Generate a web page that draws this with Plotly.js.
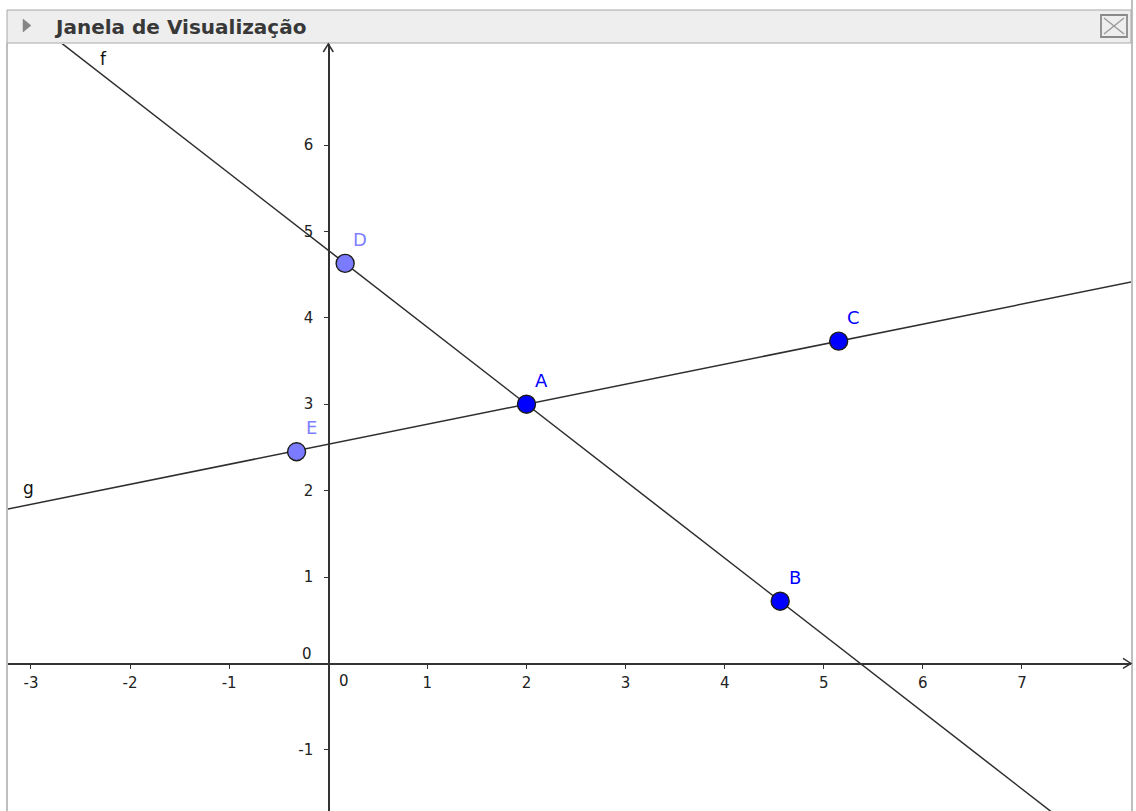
<!DOCTYPE html>
<html>
<head>
<meta charset="utf-8">
<script src="https://cdn.plot.ly/plotly-3.0.1.min.js"></script>
<style>
  html, body { margin: 0; padding: 0; background: #ffffff; }
  #chart { width: 1136px; height: 811px; }
</style>
</head>
<body>
<div id="chart"></div>
<script>
// ---- data ----
const pointNames = ['A', 'B', 'C', 'D', 'E'];
const pointX = [2, 4.56, 5.15, 0.17, -0.32];
const pointY = [3, 0.72, 3.73, 4.63, 2.45];
const lineNames = ['f', 'g'];
const lineThrough = [['A', 'B'], ['A', 'C']];
const xTickVals = [-3, -2, -1, 1, 2, 3, 4, 5, 6, 7];
const yTickVals = [-1, 1, 2, 3, 4, 5, 6];
const panelTitle = 'Janela de Visualização';

// ---- view ----
const W = 1136, H = 811;
const xRange = [-3.232, 8.100];
const yRange = [-1.708, 7.169];
const xDom = [8 / W, 1131 / W];
const yDom = [0, (H - 44) / H];
const FONT = 'DejaVu Sans, Liberation Sans, Arial, sans-serif';
const px = x => x / W;
const py = y => 1 - y / H;

// helpers
const idx = n => pointNames.indexOf(n);
function lineThroughPts(n1, n2) {
  const x1 = pointX[idx(n1)], y1 = pointY[idx(n1)];
  const x2 = pointX[idx(n2)], y2 = pointY[idx(n2)];
  const m = (y2 - y1) / (x2 - x1);
  const xs = [xRange[0] - 1, xRange[1] + 1];
  return { m, x1, y1, xs, ys: xs.map(x => y1 + m * (x - x1)) };
}

const traces = [];
const lineInfo = lineThrough.map(p => lineThroughPts(p[0], p[1]));
lineInfo.forEach((L, i) => {
  traces.push({
    type: 'scatter', mode: 'lines', x: L.xs, y: L.ys, name: lineNames[i],
    line: { color: '#2e2e2e', width: 1.5 }, hoverinfo: 'skip', showlegend: false
  });
});

const lightIdx = [3, 4]; // D, E drawn lighter
const fillCols = pointNames.map((n, i) => lightIdx.includes(i) ? '#7b7bff' : '#0000ff');
const textCols = pointNames.map((n, i) => lightIdx.includes(i) ? '#8080ff' : '#0000ff');
traces.push({
  type: 'scatter', mode: 'markers', x: pointX, y: pointY, text: pointNames,
  marker: { size: 18, color: fillCols, line: { color: '#1c1c1c', width: 1.4 } },
  hoverinfo: 'skip', showlegend: false
});

const annotations = [];
pointNames.forEach((n, i) => {
  annotations.push({
    x: pointX[i], y: pointY[i], xref: 'x', yref: 'y', text: n, showarrow: false,
    xshift: 15, yshift: 24, font: { family: FONT, size: 18, color: textCols[i] }
  });
});
// line labels (f near top-left, g near left edge), placed above their lines
const lineLabelX = [-2.29, -3.05];
const lineLabelShift = [15, 17];
lineInfo.forEach((L, i) => {
  const lx = lineLabelX[i];
  annotations.push({
    x: lx, y: L.y1 + L.m * (lx - L.x1), xref: 'x', yref: 'y', text: lineNames[i],
    showarrow: false, yshift: lineLabelShift[i], xshift: 2,
    font: { family: FONT, size: 17, color: '#111111' }
  });
});
// origin labels
annotations.push({ x: 0, y: 0, xref: 'x', yref: 'y', text: '0', showarrow: false,
  xshift: 16, yshift: -18, font: { family: FONT, size: 15, color: '#222' } });
annotations.push({ x: 0, y: 0, xref: 'x', yref: 'y', text: '0', showarrow: false,
  xshift: -21, yshift: 9, font: { family: FONT, size: 15, color: '#222' } });
// panel title
annotations.push({ x: px(52), y: py(27), xref: 'paper', yref: 'paper', xanchor: 'left',
  yanchor: 'middle', text: '<b>' + panelTitle + '</b>', showarrow: false,
  font: { family: FONT, size: 20, color: '#383838' } });

// axis positions
const yZeroFrac = yDom[0] + (0 - yRange[0]) / (yRange[1] - yRange[0]) * (yDom[1] - yDom[0]);
const xZeroFrac = xDom[0] + (0 - xRange[0]) / (xRange[1] - xRange[0]) * (xDom[1] - xDom[0]);

const shapes = [
  // header band
  { type: 'rect', xref: 'paper', yref: 'paper', x0: px(7), x1: px(1131), y0: py(10), y1: py(43),
    fillcolor: '#eeeeee', line: { color: '#a8a8a8', width: 1 }, layer: 'below' },
  // left & right borders
  { type: 'line', xref: 'paper', yref: 'paper', x0: px(7), x1: px(7), y0: py(43), y1: py(811),
    line: { color: '#a8a8a8', width: 1.5 } },
  { type: 'line', xref: 'paper', yref: 'paper', x0: px(1132), x1: px(1132), y0: py(0), y1: py(811),
    line: { color: '#a8a8a8', width: 1.5 } },
  // triangle
  { type: 'path', xref: 'paper', yref: 'paper',
    path: `M ${px(23)} ${py(19)} L ${px(31)} ${py(25.5)} L ${px(23)} ${py(32)} Z`,
    fillcolor: '#858585', line: { color: '#858585', width: 0.5 } },
  // close box
  { type: 'rect', xref: 'paper', yref: 'paper', x0: px(1101), x1: px(1127), y0: py(15), y1: py(37),
    fillcolor: 'rgba(0,0,0,0)', line: { color: '#8a8a8a', width: 1.8 } },
  { type: 'line', xref: 'paper', yref: 'paper', x0: px(1104), x1: px(1124), y0: py(18), y1: py(34),
    line: { color: '#9a9a9a', width: 1.5 } },
  { type: 'line', xref: 'paper', yref: 'paper', x0: px(1104), x1: px(1124), y0: py(34), y1: py(18),
    line: { color: '#9a9a9a', width: 1.5 } },
  // x axis arrow
  { type: 'path', xref: 'paper', yref: 'paper',
    path: `M ${xDom[1] - 8 / W} ${yZeroFrac + 5 / H} L ${xDom[1]} ${yZeroFrac} L ${xDom[1] - 8 / W} ${yZeroFrac - 5 / H}`,
    line: { color: '#333333', width: 1.5 } },
  // y axis arrow
  { type: 'path', xref: 'paper', yref: 'paper',
    path: `M ${xZeroFrac - 5 / W} ${yDom[1] - 8 / H} L ${xZeroFrac} ${yDom[1]} L ${xZeroFrac + 5 / W} ${yDom[1] - 8 / H}`,
    line: { color: '#333333', width: 1.5 } }
];

const layout = {
  width: W, height: H, autosize: false,
  margin: { l: 0, r: 0, t: 0, b: 0, pad: 0 },
  paper_bgcolor: '#ffffff', plot_bgcolor: '#ffffff',
  showlegend: false, hovermode: false,
  xaxis: {
    domain: xDom, range: xRange, anchor: 'free', position: yZeroFrac,
    showgrid: false, zeroline: false, showline: true, linecolor: '#333333', linewidth: 1.6,
    tickmode: 'array', tickvals: xTickVals, ticktext: xTickVals.map(String),
    ticks: 'outside', ticklen: 4, tickwidth: 1, tickcolor: '#333333', ticklabelstandoff: 1,
    tickfont: { family: FONT, size: 15, color: '#222222' }, fixedrange: true
  },
  yaxis: {
    domain: yDom, range: yRange, anchor: 'free', position: xZeroFrac,
    showgrid: false, zeroline: false, showline: true, linecolor: '#333333', linewidth: 1.6,
    tickmode: 'array', tickvals: yTickVals, ticktext: yTickVals.map(String),
    ticks: 'outside', ticklen: 4, tickwidth: 1, tickcolor: '#333333', ticklabelstandoff: 8,
    tickfont: { family: FONT, size: 15, color: '#222222' }, fixedrange: true
  },
  shapes, annotations
};

Plotly.newPlot('chart', traces, layout, { displayModeBar: false, staticPlot: true });
</script>
</body>
</html>
